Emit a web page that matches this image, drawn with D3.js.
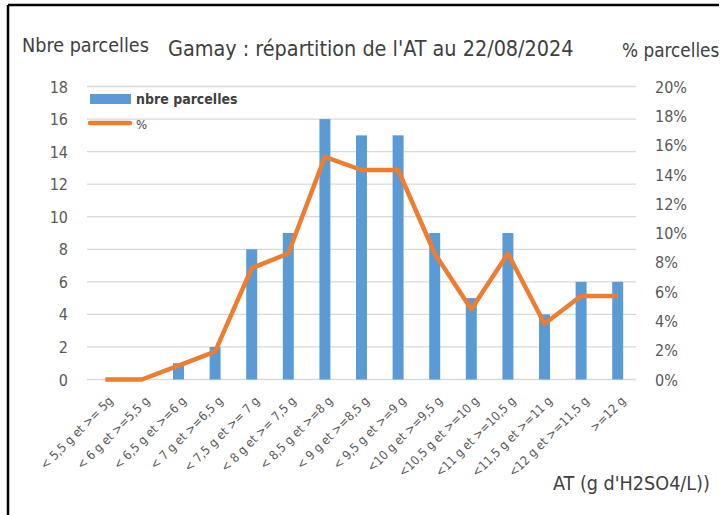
<!DOCTYPE html>
<html><head><meta charset="utf-8">
<script src="https://cdn.jsdelivr.net/npm/d3@7"></script>
<style>body{margin:0;background:#fff;} svg{display:block;}</style>
</head><body>
<svg id="c" width="723" height="515"></svg>
<script>
const categories = ["< 5,5 g et >= 5g","< 6 g et >=5,5 g","< 6,5 g et >=6 g","< 7 g et >=6,5 g","< 7,5 g et >= 7 g","< 8 g et >= 7,5 g","< 8,5 g et >=8 g","< 9 g et >=8,5 g","< 9,5 g et >=9 g","<10 g et >=9,5 g","<10,5 g et >=10 g","<11 g et >=10,5 g","<11,5 g et >=11 g","<12 g et >=11,5 g",">=12 g"];
const counts = [0,0,1,2,8,9,16,15,15,9,5,9,4,6,6];
const percents = [0,0,0.95,1.9,7.6,8.6,15.2,14.3,14.3,8.6,4.8,8.6,3.8,5.7,5.7];
const leftTicks = [0,2,4,6,8,10,12,14,16,18];
const rightTicks = [0,2,4,6,8,10,12,14,16,18,20];

const svg = d3.select("#c");
const font = "'DejaVu Sans Condensed','Open Sans',sans-serif";
const x0 = 87, x1 = 636, yTop = 86.5, yBot = 379.5;

const x = d3.scaleBand().domain(categories).range([x0, x1]).paddingInner(0.7).paddingOuter(0.35);
const xp = d3.scalePoint().domain(categories).range([x0, x1]).padding(0.5);
const yL = d3.scaleLinear().domain([0,18]).range([yBot, yTop]);
const yR = d3.scaleLinear().domain([0,20]).range([yBot, yTop]);

// border
svg.append("line").attr("x1",8).attr("x2",8).attr("y1",5).attr("y2",515).attr("stroke","#000").attr("stroke-width",2.5);
svg.append("line").attr("x1",8).attr("x2",719).attr("y1",5).attr("y2",5).attr("stroke","#000").attr("stroke-width",2.5);

// gridlines
svg.append("g").selectAll("line").data(leftTicks).join("line")
  .attr("x1",x0).attr("x2",x1).attr("y1",d=>yL(d)).attr("y2",d=>yL(d))
  .attr("stroke","#d9d9d9").attr("stroke-width",1.3);

// left axis
const gl = svg.append("g").attr("transform",`translate(${x0-14},0)`)
  .call(d3.axisLeft(yL).tickValues(leftTicks).tickSize(0).tickPadding(0));
gl.select(".domain").remove();
gl.selectAll("text").attr("font-family",font).attr("font-size",16).attr("fill","#595959").attr("dy","0.35em").attr("x",-5);

// right axis
const gr = svg.append("g").attr("transform",`translate(${x1+19},0)`)
  .call(d3.axisRight(yR).tickValues(rightTicks).tickSize(0).tickPadding(0).tickFormat(d=>d+"%"));
gr.select(".domain").remove();
gr.selectAll("text").attr("font-family",font).attr("font-size",16).attr("fill","#595959").attr("dy","0.35em");

// bars
svg.append("g").selectAll("rect").data(counts).join("rect")
  .attr("x",(d,i)=>x(categories[i])).attr("width",x.bandwidth())
  .attr("y",d=>yL(d)).attr("height",d=>yBot-yL(d)).attr("fill","#5b9bd5");

// line
const line = d3.line().x((d,i)=>xp(categories[i])).y(d=>yR(d));
svg.append("path").datum(percents).attr("d",line).attr("fill","none")
  .attr("stroke","#ed7d31").attr("stroke-width",4.5).attr("stroke-linejoin","round");

// x axis labels
const gx = svg.append("g").attr("transform",`translate(0,${yBot+13})`)
  .call(d3.axisBottom(xp).tickSize(0).tickPadding(0));
gx.select(".domain").remove();
gx.selectAll("text").attr("font-family",font).attr("font-size",12.5).attr("fill","#595959")
  .attr("text-anchor","end").attr("dy","0.35em").attr("y",0)
  .attr("transform","translate(5,6) rotate(-45)");

// legend
svg.append("rect").attr("x",90).attr("y",94).attr("width",41).attr("height",10).attr("fill","#5b9bd5");
svg.append("text").attr("x",136).attr("y",104).text("nbre parcelles").attr("font-family",font).attr("font-size",14).attr("font-weight","bold").attr("fill","#404040");
svg.append("line").attr("x1",90).attr("x2",130).attr("y1",123).attr("y2",123).attr("stroke","#ed7d31").attr("stroke-width",4.5).attr("stroke-linecap","round");
svg.append("text").attr("x",136).attr("y",129).text("%").attr("font-family",font).attr("font-size",13).attr("fill","#404040");

// titles
svg.append("text").attr("x",168).attr("y",56).text("Gamay : répartition de l'AT au 22/08/2024").attr("font-family",font).attr("font-size",21.4).attr("fill","#404040");
svg.append("text").attr("x",22).attr("y",52).text("Nbre parcelles").attr("font-family",font).attr("font-size",19.6).attr("fill","#404040");
svg.append("text").attr("x",622).attr("y",57).text("% parcelles").attr("font-family",font).attr("font-size",18.8).attr("fill","#404040");
svg.append("text").attr("x",553).attr("y",490).text("AT (g d'H2SO4/L))").attr("font-family",font).attr("font-size",19.6).attr("fill","#404040");
</script>
</body></html>
